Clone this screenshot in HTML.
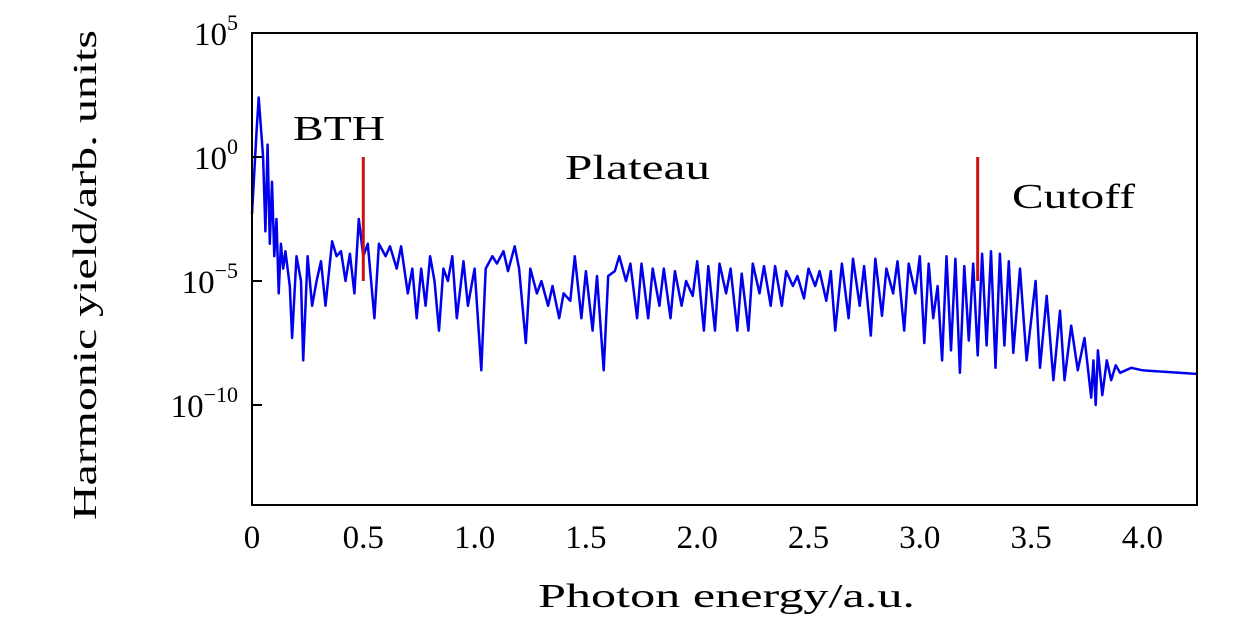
<!DOCTYPE html>
<html><head><meta charset="utf-8"><style>
html,body{margin:0;padding:0;background:#fff;}
svg{display:block;font-family:"Liberation Serif",serif;}
</style></head><body>
<svg id="chart" width="1260" height="622">
<g id="plot"></g>
</svg>
<script>
const energies=[0,0.02,0.03,0.04,0.05,0.06,0.07,0.08,0.09,0.1,0.11,0.12,0.13,0.14,0.15,0.17,0.18,0.2,0.22,0.23,0.25,0.27,0.29,0.31,0.33,0.36,0.38,0.40,0.42,0.44,0.46,0.48,0.5,0.52,0.55,0.57,0.6,0.62,0.65,0.67,0.7,0.72,0.74,0.76,0.78,0.8,0.82,0.84,0.86,0.88,0.9,0.92,0.95,0.97,1.0,1.03,1.05,1.08,1.1,1.13,1.15,1.18,1.2,1.23,1.25,1.28,1.3,1.33,1.35,1.38,1.4,1.43,1.45,1.48,1.5,1.53,1.55,1.58,1.6,1.63,1.65,1.68,1.7,1.73,1.75,1.78,1.8,1.83,1.85,1.88,1.9,1.93,1.95,1.98,2.0,2.03,2.05,2.08,2.1,2.13,2.15,2.18,2.2,2.23,2.25,2.28,2.3,2.33,2.35,2.38,2.4,2.43,2.45,2.48,2.5,2.53,2.55,2.58,2.6,2.62,2.65,2.68,2.7,2.73,2.75,2.78,2.8,2.83,2.85,2.88,2.9,2.93,2.95,2.98,3.0,3.02,3.04,3.06,3.08,3.1,3.12,3.14,3.16,3.18,3.2,3.22,3.24,3.26,3.28,3.3,3.32,3.34,3.36,3.38,3.4,3.42,3.45,3.48,3.52,3.54,3.57,3.6,3.63,3.65,3.68,3.71,3.74,3.77,3.78,3.79,3.8,3.82,3.84,3.86,3.88,3.9,3.95,4.0,4.25];
const logYield=[-2.3,1.0,2.4,1.2,0,-3,0.5,-3.5,-1,-4,-2.5,-5.5,-3.5,-4.5,-3.8,-5.2,-7.3,-4,-5,-8.2,-4,-6,-5,-4.2,-6,-3.4,-4,-3.8,-5,-3.9,-5.5,-2.5,-4,-3.5,-6.5,-3.5,-4,-3.6,-4.5,-3.6,-5.5,-4.5,-6.5,-4.5,-6,-4,-5,-7,-4.5,-5,-4,-6.5,-4.2,-6,-4.5,-8.6,-4.5,-4,-4.3,-3.8,-4.6,-3.6,-4.5,-7.5,-4.5,-5.5,-5,-6,-5.2,-6.5,-5.5,-5.8,-4,-6.5,-4.6,-7,-4.8,-8.6,-4.8,-4.6,-4,-5,-4.3,-6.5,-4.3,-6.5,-4.5,-6,-4.5,-6.5,-4.6,-6,-5,-5.6,-4.2,-7,-4.4,-7,-4.3,-5.5,-4.5,-7,-4.7,-7,-4.3,-5.5,-4.4,-6,-4.4,-6,-4.6,-5.2,-4.8,-5.7,-4.5,-5.2,-4.6,-5.8,-4.6,-7,-4.3,-6.5,-4.1,-6,-4.4,-7.2,-4.1,-6.4,-4.5,-5.5,-4.2,-7,-4.3,-5.5,-4.0,-7.5,-4.3,-6.5,-5.2,-8.2,-4.0,-7.8,-4.1,-8.7,-4.4,-7.4,-4.3,-8,-3.9,-7.6,-3.8,-8.5,-3.9,-7.6,-4.2,-7.9,-4.5,-8.2,-5.0,-8.5,-5.6,-9,-6.2,-9,-6.8,-8.6,-7.3,-9.7,-8.2,-10,-7.8,-9.6,-8.2,-9,-8.4,-8.7,-8.5,-8.6,-8.75];
const xTicks=[0,0.5,1.0,1.5,2.0,2.5,3.0,3.5,4.0];
const xTickLabels=["0","0.5","1.0","1.5","2.0","2.5","3.0","3.5","4.0"];
const yTicks=[5,0,-5,-10];
const yTickLabels=["5","0","\u22125","\u221210"];
const markers=[0.5,3.26];

const L=252,R=1197,T=33,B=505;
const X=v=>L+v*222.6;
const Y=v=>T+(5-v)*24.8;
const NS="http://www.w3.org/2000/svg";
const g=document.getElementById('plot');
function mk(t,a){const e=document.createElementNS(NS,t);for(const k in a)e.setAttribute(k,a[k]);g.appendChild(e);return e;}

let d="";
energies.forEach((e,i)=>{d+=(i?"L":"M")+X(e).toFixed(1)+","+Y(logYield[i]).toFixed(1);});
const line=mk('path',{d:d,fill:'none',stroke:'#0000ee','stroke-width':2.5,'stroke-linejoin':'round'});



markers.forEach(m=>{
 const r=mk('line',{x1:X(m),x2:X(m),y1:Y(0),y2:Y(-5),stroke:'#cc1111','stroke-width':3});
 
 
});

const frame=mk('rect',{x:L,y:T,width:R-L,height:B-T,fill:'none',stroke:'#000','stroke-width':2});



xTicks.forEach((t,i)=>{
 const tx=mk('text',{x:X(t),y:548,'text-anchor':'middle','font-size':33});
 tx.textContent=xTickLabels[i];
 
 
});
yTicks.forEach((t,i)=>{
 const tk=mk('line',{x1:L,x2:L+10,y1:Y(t),y2:Y(t),stroke:'#000','stroke-width':2});
 
 
 const tx=mk('text',{x:238,y:Y(t)+12,'text-anchor':'end','font-size':33});
 tx.innerHTML='10<tspan dy="-15" font-size="22">'+yTickLabels[i]+'</tspan>';
 
 
});
function label(txt,x,y,name,extra){const t=mk('text',Object.assign({x:x,y:y,'font-size':35,lengthAdjust:'spacingAndGlyphs'},extra||{}));t.textContent=txt;
 
 return t;}
label('BTH',293,140,'bth-label',{textLength:92});
label('Plateau',565,179,'plateau-label',{textLength:145});
label('Cutoff',1012,208,'cutoff-label',{textLength:123});
label('Photon energy/a.u.',538,607,'x-axis-title',{'font-size':34,textLength:377});
label('Harmonic yield/arb. units',96,520,'y-axis-title',{'font-size':34,textLength:490,transform:'rotate(-90 96 520)'});
</script>
</body></html>
